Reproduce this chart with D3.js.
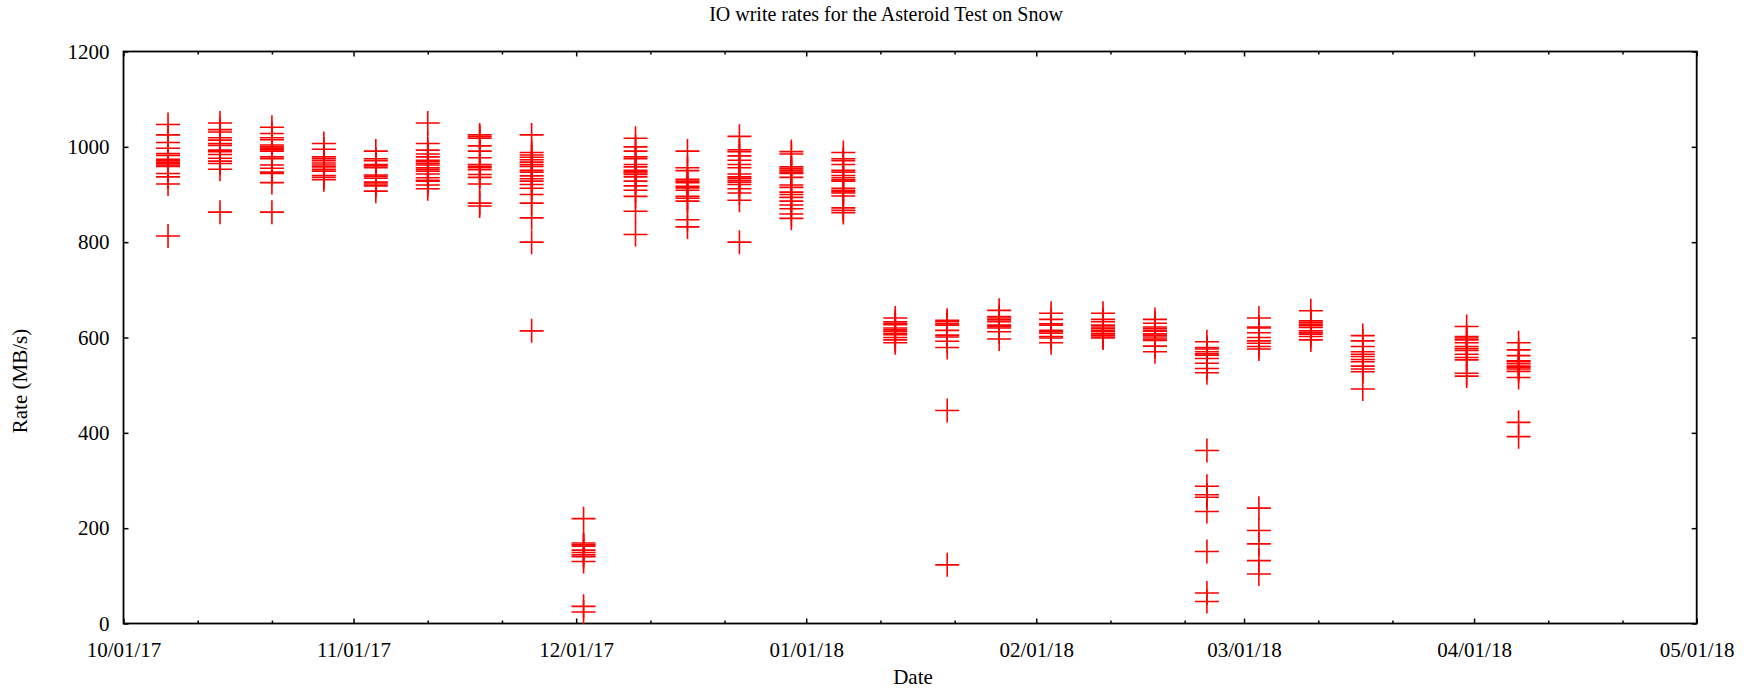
<!DOCTYPE html>
<html>
<head>
<meta charset="utf-8">
<script src="https://cdn.jsdelivr.net/npm/d3@7"></script>
<style>
  body { margin: 0; background: #fff; }
  text { font-family: "Liberation Serif", "Times New Roman", serif; fill: #000; }
</style>
</head>
<body>
<svg id="chart" width="1756" height="692"></svg>
<script>
// one entry per weekly run (03/24/18 has no results)
const runDates = [
  "10/07/17", "10/14/17", "10/21/17", "10/28/17", "11/04/17", "11/11/17", "11/18/17",
  "11/25/17", "12/02/17", "12/09/17", "12/16/17", "12/23/17", "12/30/17", "01/06/18",
  "01/13/18", "01/20/18", "01/27/18", "02/03/18", "02/10/18", "02/17/18", "02/24/18",
  "03/03/18", "03/10/18", "03/17/18", "03/31/18", "04/07/18"
];

// write rates (MB/s) measured in each run
const rates = [
  [1047, 1025, 1009, 997, 986, 982, 974, 971, 968, 965, 962, 959, 944, 937, 922, 813],
  [1050, 1036, 1031, 1019, 1014, 1007, 1003, 993, 990, 984, 976, 970, 965, 953, 863],
  [1041, 1028, 1019, 1015, 1004, 1000, 997, 994, 991, 979, 975, 962, 955, 947, 944, 925, 863],
  [1007, 995, 979, 975, 971, 966, 962, 958, 953, 949, 940, 936, 931],
  [991, 975, 971, 963, 960, 956, 941, 938, 934, 926, 922, 918, 907],
  [1050, 1007, 993, 985, 979, 972, 969, 965, 962, 956, 953, 949, 943, 935, 930, 928, 920, 912],
  [1025, 1021, 1018, 1002, 991, 977, 963, 959, 956, 952, 942, 936, 922, 882, 876],
  [1025, 988, 983, 978, 973, 968, 963, 959, 951, 947, 939, 933, 928, 921, 913, 900, 882, 851, 800, 614],
  [220, 169, 165, 162, 154, 149, 144, 140, 130, 36, 24],
  [1018, 1000, 991, 979, 975, 963, 958, 951, 948, 945, 942, 937, 928, 918, 909, 896, 865, 816],
  [991, 956, 950, 932, 928, 925, 917, 914, 909, 896, 892, 886, 847, 832],
  [1022, 994, 990, 981, 972, 963, 956, 943, 937, 934, 930, 926, 921, 912, 903, 888, 800],
  [990, 985, 958, 954, 951, 947, 944, 936, 920, 915, 905, 900, 894, 886, 878, 870, 859, 850],
  [988, 975, 971, 963, 951, 947, 940, 935, 931, 928, 913, 909, 906, 903, 897, 872, 867, 862],
  [641, 633, 630, 627, 620, 616, 613, 609, 606, 600, 595, 589],
  [636, 633, 629, 626, 615, 605, 601, 592, 579, 447, 123],
  [657, 644, 641, 637, 633, 626, 623, 620, 612, 597],
  [651, 638, 629, 626, 615, 612, 609, 602, 599, 589],
  [651, 638, 633, 626, 622, 619, 615, 612, 608, 605, 601, 599],
  [638, 630, 622, 619, 615, 613, 608, 605, 601, 597, 594, 582, 570],
  [591, 579, 576, 570, 566, 563, 556, 546, 535, 526, 363, 288, 270, 265, 235, 151, 64, 46],
  [641, 622, 620, 610, 600, 593, 588, 581, 576, 242, 195, 167, 132, 104],
  [656, 635, 632, 628, 625, 621, 614, 610, 607, 602, 595],
  [604, 593, 581, 570, 565, 560, 554, 549, 540, 534, 528, 492],
  [623, 602, 599, 595, 589, 581, 577, 573, 565, 558, 553, 525, 519],
  [589, 574, 562, 551, 549, 545, 540, 537, 534, 529, 516, 422, 392]
];

const xTickLabels = ["10/01/17", "11/01/17", "12/01/17", "01/01/18", "02/01/18", "03/01/18", "04/01/18", "05/01/18"];
const yTickValues = [0, 200, 400, 600, 800, 1000, 1200];

const parseDate = d3.timeParse("%m/%d/%y");
const fmtDate = d3.timeFormat("%m/%d/%y");

const plotLeft = 123.5, plotRight = 1696.7, plotTop = 51.5, plotBottom = 623.5;

const svg = d3.select("#chart");

const monthTicks = xTickLabels.map(parseDate);
const x = d3.scaleTime()
    .domain([monthTicks[0], monthTicks[monthTicks.length - 1]])
    .range([plotLeft, plotRight]);
const y = d3.scaleLinear().domain([0, 1200]).range([plotBottom, plotTop]);

// minor tics on the 11th and 21st of each month
const minorTicks = d3.timeDay.range(x.domain()[0], x.domain()[1])
    .filter(d => d.getDate() === 11 || d.getDate() === 21);

const points = [];
runDates.forEach((d, i) => {
  rates[i].forEach(v => points.push({date: parseDate(d), rate: v}));
});

// axes, ticks pointing inwards on all four sides
svg.append("g").attr("transform", `translate(0,${plotBottom})`)
    .call(d3.axisBottom(x).tickValues(monthTicks).tickSize(-5).tickPadding(19).tickFormat(fmtDate));
svg.append("g").attr("transform", `translate(0,${plotBottom})`)
    .call(d3.axisBottom(x).tickValues(minorTicks).tickSize(-3).tickFormat(""));
svg.append("g").attr("transform", `translate(0,${plotTop})`)
    .call(d3.axisTop(x).tickValues(monthTicks).tickSize(-5).tickFormat(""));
svg.append("g").attr("transform", `translate(0,${plotTop})`)
    .call(d3.axisTop(x).tickValues(minorTicks).tickSize(-3).tickFormat(""));
svg.append("g").attr("transform", `translate(${plotLeft},0)`)
    .call(d3.axisLeft(y).tickValues(yTickValues).tickSize(-5).tickPadding(14).tickFormat(d3.format("d")));
svg.append("g").attr("transform", `translate(${plotRight},0)`)
    .call(d3.axisRight(y).tickValues(yTickValues).tickSize(-5).tickFormat(""));

svg.selectAll(".domain").remove();
svg.selectAll(".tick line").attr("stroke", "#000").attr("stroke-width", 1.5);
svg.selectAll(".tick text").attr("font-size", 21).attr("font-family", "Liberation Serif").attr("fill", "#000");

svg.append("rect")
    .attr("x", plotLeft).attr("y", plotTop)
    .attr("width", plotRight - plotLeft).attr("height", plotBottom - plotTop)
    .attr("fill", "none").attr("stroke", "#000").attr("stroke-width", 1.8);

// points as "+" markers
svg.append("g").selectAll("path")
  .data(points)
  .enter().append("path")
    .attr("transform", d => `translate(${x(d.date)},${y(d.rate)})`)
    .attr("d", "M-12,0H12M0,-12V12")
    .attr("stroke", "#ff0000")
    .attr("stroke-width", 1.6)
    .attr("fill", "none");

// labels
svg.append("text")
    .attr("x", 886).attr("y", 20.5)
    .attr("text-anchor", "middle").attr("font-size", 20)
    .text("IO write rates for the Asteroid Test on Snow");

svg.append("text")
    .attr("x", 913).attr("y", 684)
    .attr("text-anchor", "middle").attr("font-size", 21)
    .text("Date");

svg.append("text")
    .attr("transform", "translate(27,381) rotate(-90)")
    .attr("text-anchor", "middle").attr("font-size", 21)
    .text("Rate (MB/s)");
</script>
</body>
</html>
